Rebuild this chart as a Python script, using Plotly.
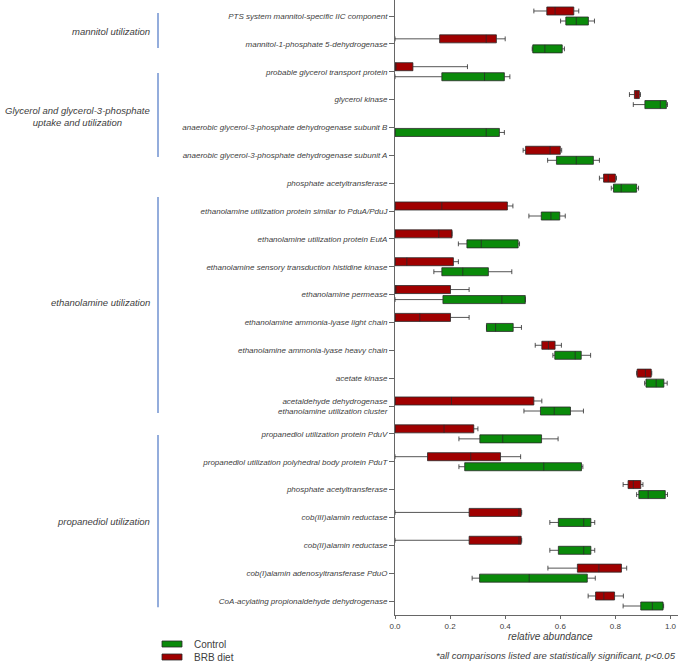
import plotly.graph_objects as go

labels = [
    "PTS system mannitol-specific IIC component",
    "mannitol-1-phosphate 5-dehydrogenase",
    "probable glycerol transport protein",
    "glycerol kinase",
    "anaerobic glycerol-3-phosphate dehydrogenase subunit B",
    "anaerobic glycerol-3-phosphate dehydrogenase subunit A",
    "phosphate acetyltransferase",
    "ethanolamine utilization protein similar to PduA/PduJ",
    "ethanolamine utilization protein EutA",
    "ethanolamine sensory transduction histidine kinase",
    "ethanolamine permease",
    "ethanolamine ammonia-lyase light chain",
    "ethanolamine ammonia-lyase heavy chain",
    "acetate kinase",
    "acetaldehyde dehydrogenase<br>ethanolamine utilization cluster",
    "propanediol utilization protein PduV",
    "propanediol utilization polyhedral body protein PduT",
    "phosphate acetyltransferase",
    "cob(III)alamin reductase",
    "cob(II)alamin reductase",
    "cob(I)alamin adenosyltransferase PduO",
    "CoA-acylating propionaldehyde dehydrogenase",
]

# BRB diet (None = not shown)
brb_lo  = [0.504, 0.0,   0.0,   0.851, None, 0.465, 0.742, 0.0,   0.0,   0.0,   0.0,    0.0,    0.509, 0.877, 0.0,   0.0,   0.0,   0.828, 0.0,   0.0,   0.555, 0.701]
brb_q1  = [0.551, 0.162, 0.0,   0.869, None, 0.474, 0.757, 0.0,   0.0,   0.0,   0.0,    0.0,    0.533, 0.879, 0.0,   0.0,   0.118, 0.846, 0.269, 0.269, 0.662, 0.728]
brb_med = [0.581, 0.331, 0.0,   0.878, None, 0.563, 0.774, 0.170, 0.159, 0.043, 0.0,    0.090,  0.557, 0.909, 0.205, 0.178, 0.275, 0.865, 0.450, 0.450, 0.740, 0.758]
brb_q3  = [0.649, 0.368, 0.065, 0.887, None, 0.600, 0.800, 0.408, 0.207, 0.212, 0.2015, 0.2015, 0.581, 0.930, 0.504, 0.286, 0.383, 0.892, 0.458, 0.458, 0.822, 0.797]
brb_hi  = [0.667, 0.400, 0.263, 0.891, None, 0.605, 0.804, 0.428, 0.207, 0.230, 0.269,  0.269,  0.604, 0.932, 0.533, 0.301, 0.456, 0.900, 0.460, 0.460, 0.841, 0.829]

# Control
ctl_lo  = [0.601, 0.498, 0.0,   0.865, 0.0,   0.554, 0.785, 0.486, 0.230, 0.141, 0.0,   0.332, 0.573, 0.906, 0.468, 0.232, 0.232, 0.877, 0.562, 0.562, 0.280, 0.828]
ctl_q1  = [0.620, 0.500, 0.170, 0.907, 0.0,   0.586, 0.793, 0.531, 0.261, 0.170, 0.174, 0.332, 0.580, 0.911, 0.528, 0.308, 0.253, 0.885, 0.593, 0.593, 0.307, 0.892]
ctl_med = [0.658, 0.544, 0.325, 0.963, 0.331, 0.658, 0.821, 0.566, 0.313, 0.246, 0.388, 0.365, 0.654, 0.948, 0.578, 0.391, 0.540, 0.919, 0.685, 0.685, 0.487, 0.934]
ctl_q3  = [0.702, 0.607, 0.397, 0.985, 0.379, 0.720, 0.877, 0.598, 0.447, 0.339, 0.473, 0.429, 0.676, 0.976, 0.637, 0.532, 0.677, 0.981, 0.711, 0.711, 0.698, 0.973]
ctl_hi  = [0.724, 0.615, 0.417, 0.989, 0.397, 0.742, 0.884, 0.618, 0.452, 0.424, 0.473, 0.459, 0.710, 0.988, 0.684, 0.592, 0.682, 0.989, 0.725, 0.725, 0.727, 0.975]

groups = [
    ("mannitol utilization", 0.574, -0.108, 1.149),
    ("Glycerol and glycerol-3-phosphate<br>uptake and utilization", 3.59, 2.046, 5.06),
    ("ethanolamine utilization", 10.27, 6.50, 14.25),
    ("propanediol utilization", 18.13, 15.04, 21.22),
]

RED = "#a00000"
GREEN = "#0a8a0a"
TXT = "#404040"
FONT = "Liberation Sans, Arial, sans-serif"

pos = list(range(len(labels)))
bi = [i for i in pos if brb_q1[i] is not None]

fig = go.Figure()
fig.add_trace(go.Box(
    name="BRB diet", orientation="h", y=bi,
    lowerfence=[brb_lo[i] for i in bi], q1=[brb_q1[i] for i in bi],
    median=[brb_med[i] for i in bi], q3=[brb_q3[i] for i in bi],
    upperfence=[brb_hi[i] for i in bi],
    fillcolor=RED, line=dict(color="#2a2a2a", width=0.8),
    whiskerwidth=0.6, showlegend=False, boxpoints=False,
))
fig.add_trace(go.Box(
    name="Control", orientation="h", y=pos,
    lowerfence=ctl_lo, q1=ctl_q1, median=ctl_med, q3=ctl_q3, upperfence=ctl_hi,
    fillcolor=GREEN, line=dict(color="#2a2a2a", width=0.8),
    whiskerwidth=0.6, showlegend=False, boxpoints=False,
))

W, H = 683, 663
L, R, T, B = 395, 5, 0, 48
PW, PH = W - L - R, H - T - B

def px(x):
    return (x - L) / PW

def py(y):
    return (T + PH - y) / PH

def ypix(v):
    return 16 + v * 27.857

shapes = []
annotations = []
for text, yc, y0, y1 in groups:
    shapes.append(dict(type="line", xref="paper", yref="paper",
                       x0=px(158), x1=px(158), y0=py(ypix(y0)), y1=py(ypix(y1)),
                       line=dict(color="#7092d0", width=1.5)))
    annotations.append(dict(text=text, xref="paper", yref="paper",
                            x=px(152), y=py(ypix(yc)), xanchor="right", yanchor="middle",
                            align="center", showarrow=False,
                            font=dict(family=FONT, size=9.5, color=TXT, style="italic")))

# legend (manual)
for name, col, ycen in [("Control", GREEN, 644), ("BRB diet", RED, 657)]:
    shapes.append(dict(type="rect", xref="paper", yref="paper",
                       x0=px(162), x1=px(182), y0=py(ycen + 3), y1=py(ycen - 3),
                       fillcolor=col, line=dict(color="#2a2a2a", width=0.8)))
    annotations.append(dict(text=name, xref="paper", yref="paper",
                            x=px(192), y=py(ycen), xanchor="left", yanchor="middle",
                            showarrow=False,
                            font=dict(family=FONT, size=10, color=TXT)))

annotations.append(dict(text="relative abundance", xref="paper", yref="paper",
                        x=px(550), y=py(636), xanchor="center", yanchor="middle",
                        showarrow=False,
                        font=dict(family=FONT, size=10, color=TXT, style="italic")))
annotations.append(dict(text="*all comparisons listed are statistically significant, p<0.05",
                        xref="paper", yref="paper",
                        x=px(678), y=py(655), xanchor="right", yanchor="middle",
                        showarrow=False,
                        font=dict(family=FONT, size=9.5, color=TXT, style="italic")))

fig.update_layout(
    width=W, height=H,
    margin=dict(l=L, r=R, t=T, b=B),
    paper_bgcolor="white", plot_bgcolor="white",
    boxmode="group", boxgap=0.28, boxgroupgap=0.2,
    shapes=shapes, annotations=annotations,
    font=dict(family=FONT, color=TXT),
    xaxis=dict(range=[0, PW / 275.5], tickvals=[0, 0.2, 0.4, 0.6, 0.8, 1.0],
               tickformat=".1f", showgrid=False, zeroline=False,
               showline=True, linecolor="#666", linewidth=1,
               ticks="outside", ticklen=3, tickcolor="#666",
               tickfont=dict(family=FONT, size=8, color=TXT)),
    yaxis=dict(range=[21 + (615 - 16 - 21 * 27.857) / 27.857, -16 / 27.857],
               tickvals=pos, ticktext=labels, showgrid=False, zeroline=False,
               showline=True, linecolor="#666", linewidth=1,
               ticks="outside", ticklen=5, tickcolor="#666",
               tickfont=dict(family=FONT, size=8, color=TXT, style="italic")),
)

fig.write_html("out.html",
               config={"displayModeBar": False},
               post_script="document.body.style.margin='0px';document.body.style.padding='0px';document.body.style.overflow='hidden';")
